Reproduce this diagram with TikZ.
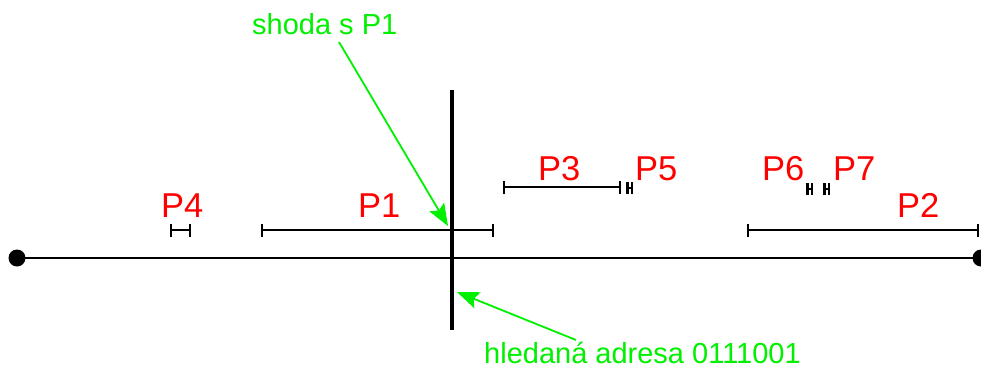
\documentclass[tikz,border=0pt]{standalone}
\usepackage{fontspec}
\setmainfont{Liberation Sans}
\usetikzlibrary{arrows.meta}
\definecolor{lblred}{RGB}{255,0,0}
\definecolor{lblgreen}{RGB}{0,240,0}
\begin{document}
\begin{tikzpicture}[x=1pt,y=-1pt,
  plabel/.style={text=lblred,font=\fontsize{34.5}{40}\selectfont,anchor=base west,inner sep=0pt},
  glabel/.style={text=lblgreen,font=\fontsize{29}{34}\selectfont,anchor=base west,inner sep=0pt},
  interval/.style={line width=2.2pt,{Bar[width=13pt,line width=2.2pt]}-{Bar[width=13pt,line width=2.2pt]}},
  tiny/.style={line width=2.5pt,{Bar[width=12pt,line width=2.5pt]}-{Bar[width=12pt,line width=2.5pt]}},
  garrow/.style={draw=lblgreen,line width=1.8pt,-{Stealth[length=22pt,width=17pt,inset=4pt,fill=lblgreen]}},
  dot/.style={circle,fill=black,minimum size=17pt,inner sep=0pt}]
\useasboundingbox (0,0) rectangle (981,369);
\clip (0,0) rectangle (981,369);
% main axis
\node[dot] (L) at (17,258) {};
\node[dot] (R) at (981,258) {};
\draw[line width=2.2pt] (L.center) -- (R.center);
% search line
\coordinate (vt) at (452,90);
\coordinate (vb) at (452,330);
\draw[line width=4pt] (vt) -- (vb);
% intervals
\coordinate (p4a) at (170,230); \coordinate (p4b) at (191,230);
\coordinate (p1a) at (261,230); \coordinate (p1b) at (494,230);
\coordinate (p3a) at (503,187); \coordinate (p3b) at (621,187);
\coordinate (p5a) at (626,188); \coordinate (p5b) at (633,188);
\coordinate (p6a) at (806,189); \coordinate (p6b) at (813,189);
\coordinate (p7a) at (823,189); \coordinate (p7b) at (830,189);
\coordinate (p2a) at (747,230); \coordinate (p2b) at (979,230);
\draw[interval] (p4a) -- (p4b);
\draw[interval] (p1a) -- (p1b);
\draw[interval] (p3a) -- (p3b);
\draw[tiny] (p5a) -- (p5b);
\draw[tiny] (p6a) -- (p6b);
\draw[tiny] (p7a) -- (p7b);
\draw[interval] (p2a) -- (p2b);
% labels
\node[plabel] (t4) at (161,217) {P4};
\node[plabel] (t1) at (358,217) {P1};
\node[plabel] (t3) at (538,180) {P3};
\node[plabel] (t5) at (635,180) {P5};
\node[plabel] (t6) at (762,180) {P6};
\node[plabel] (t7) at (833,180) {P7};
\node[plabel] (t2) at (897,217) {P2};
% green annotations
\node[glabel] (shoda) at (252,35) {shoda s P1};
\node[glabel] (addr) at (484,363) {hledaná adresa 0111001};
\coordinate (a1s) at (339,42);
\coordinate (a1e) at (448,226);
\coordinate (a2s) at (576,340);
\coordinate (a2e) at (457,292);
\draw[garrow] (a1s) -- (a1e);
\draw[garrow] (a2s) -- (a2e);
\end{tikzpicture}
\end{document}
